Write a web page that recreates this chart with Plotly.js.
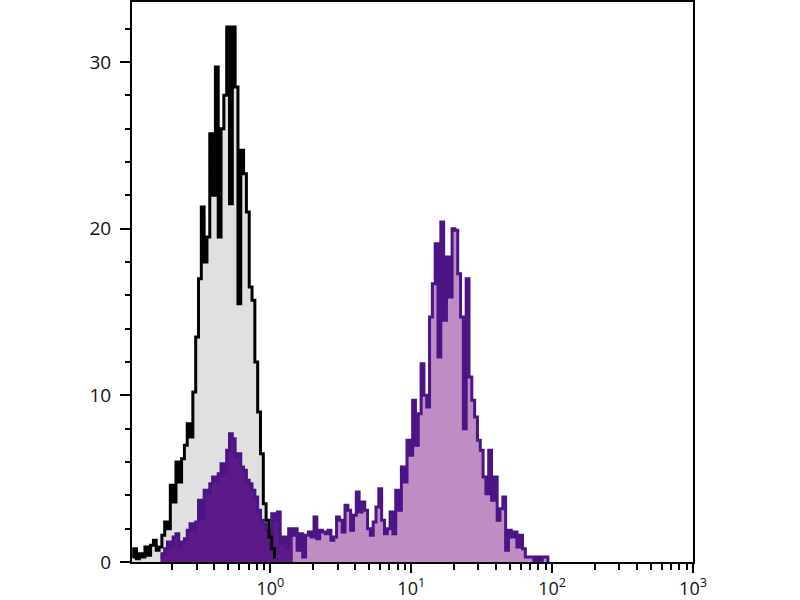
<!DOCTYPE html>
<html>
<head>
<meta charset="utf-8">
<script src="https://cdn.plot.ly/plotly-3.0.1.min.js"></script>
<style>
  body { margin: 0; background: #fff; }
  #histo { width: 800px; height: 600px; }
</style>
</head>
<body>
<div id="histo"></div>
<script>
// channels are log10 bins, 0.02 decade wide, first one centred at 10^-0.98
var binStart = -0.98;
var binStep = 0.02;

// control (unstained) counts, channels 0..51
var controlCounts = [
  0.3, 0.8, 0.2, 0.5, 0.3, 0.9, 0.4, 1.0, 1.3, 0.7,
  0.9, 1.6, 2.4, 2.0, 4.6, 3.6, 6.0, 4.8, 6.2, 7.0,
  8.3, 7.5, 10.2, 13.5, 17.0, 21.3, 18.0, 19.5, 25.7, 22.0,
  29.7, 19.5, 26.0, 28.0, 32.1, 21.5, 32.1, 28.5, 15.5, 24.7,
  23.3, 21.0, 16.5, 15.7, 12.0, 9.0, 6.5, 3.5, 2.5, 1.5,
  0.8, 0.3
];
var controlFirst = 0;

// stained sample counts, channels 10..148
var stainedCounts = [
  0.3, 0.5, 0.8, 1.2, 0.9, 1.5, 1.7, 0.9, 1.2, 1.4,
  1.9, 2.3, 1.9, 2.4, 3.7, 2.6, 4.3, 4.1, 4.7, 5.1,
  4.9, 5.3, 5.9, 5.4, 6.7, 7.7, 7.4, 6.3, 6.5, 5.7,
  5.5, 4.9, 4.7, 4.3, 3.9, 3.1, 2.5, 2.3, 1.9, 1.6,
  2.9, 2.5, 3.0, 1.1, 1.5, 0.9, 2.0, 1.6, 2.0, 0.7,
  1.7, 0.3, 1.6, 1.8, 1.5, 2.7, 1.4, 1.9, 1.8, 1.7,
  1.9, 1.3, 1.5, 2.7, 2.5, 1.8, 3.4, 3.1, 1.9, 2.8,
  4.2, 3.0, 3.6, 3.1, 2.0, 1.6, 2.4, 3.3, 4.4, 2.5,
  1.7, 2.0, 3.0, 1.7, 4.3, 3.1, 5.7, 4.8, 7.3, 6.4,
  9.7, 7.0, 8.9, 11.9, 10.0, 9.3, 14.7, 16.7, 19.1, 12.3,
  20.4, 14.5, 18.3, 15.9, 20.0, 19.9, 17.3, 14.7, 8.0, 17.0,
  11.1, 9.7, 8.7, 7.3, 6.7, 5.1, 4.1, 6.7, 3.7, 5.1,
  2.5, 3.2, 3.9, 0.7, 1.9, 1.5, 1.8, 0.9, 1.6, 0.8,
  0.3, 0.3, 0.3, 0, 0.3, 0, 0.3, 0.3, 0
];
var stainedFirst = 10;
// channels below this one are drawn in the dark (negative) colour
var stainedSplit = 57;

var decadeVals = [1, 10, 100, 1000];
var decadeText = ['10<sup>0</sup>', '10<sup>1</sup>', '10<sup>2</sup>', '10<sup>3</sup>'];
var minorVals = [0.2, 0.3, 0.4, 0.5, 0.6, 0.7, 0.8, 0.9,
                 2, 3, 4, 5, 6, 7, 8, 9,
                 20, 30, 40, 50, 60, 70, 80, 90,
                 200, 300, 400, 500, 600, 700, 800, 900];
var countVals = [0, 10, 20, 30];

function channelX(first, n) {
  var xs = [];
  for (var i = 0; i < n; i++) {
    xs.push(Math.pow(10, binStart + binStep * (first + i)));
  }
  return xs;
}

var controlX = channelX(controlFirst, controlCounts.length);
var stainedX = channelX(stainedFirst, stainedCounts.length);
var cut = stainedSplit - stainedFirst;

var grayFill = {
  x: controlX, y: controlCounts, type: 'scatter', mode: 'lines',
  line: {shape: 'hvh', width: 0, color: 'rgba(0,0,0,0)'},
  fill: 'tozeroy', fillcolor: '#e0e0e0', hoverinfo: 'skip'
};
var stainedPos = {
  x: stainedX.slice(cut), y: stainedCounts.slice(cut), type: 'scatter', mode: 'lines',
  line: {shape: 'hvh', width: 3, color: '#4b1585'},
  fill: 'tozeroy', fillcolor: '#c08cc4'
};
var stainedNeg = {
  x: stainedX.slice(0, cut + 1), y: stainedCounts.slice(0, cut + 1), type: 'scatter', mode: 'lines',
  line: {shape: 'hvh', width: 3, color: '#4b1585'},
  fill: 'tozeroy', fillcolor: '#5b1a88'
};
var controlLine = {
  x: controlX, y: controlCounts, type: 'scatter', mode: 'lines',
  line: {shape: 'hvh', width: 3, color: '#000000'}
};

var datos = [grayFill, stainedPos, stainedNeg, controlLine];

var yFont = {family: 'Open Sans, sans-serif', size: 19, color: '#111'};
var xFont = {family: 'Open Sans, sans-serif', size: 18, color: '#111'};

var layout = {
  width: 800, height: 600,
  margin: {l: 132, r: 107, t: 2, b: 38},
  paper_bgcolor: '#fff', plot_bgcolor: '#fff',
  showlegend: false,
  xaxis: {
    type: 'log', range: [-0.982, 3],
    showgrid: false, zeroline: false,
    showline: true, linecolor: '#000', linewidth: 2, mirror: true,
    tickmode: 'array', tickvals: decadeVals, ticktext: decadeText,
    ticks: 'outside', ticklen: 9, tickwidth: 2, tickcolor: '#000',
    ticklabelstandoff: 0,
    tickfont: xFont,
    minor: {tickmode: 'array', tickvals: minorVals, ticks: 'outside', ticklen: 6, tickwidth: 2, tickcolor: '#000'}
  },
  yaxis: {
    range: [0, 33.6],
    showgrid: false, zeroline: false,
    showline: true, linecolor: '#000', linewidth: 2, mirror: true,
    tickmode: 'array', tickvals: countVals,
    ticks: 'outside', ticklen: 10, tickwidth: 2, tickcolor: '#000',
    ticklabelstandoff: 5,
    tickfont: yFont,
    minor: {dtick: 2, ticks: 'outside', ticklen: 5, tickwidth: 2, tickcolor: '#000'}
  }
};

Plotly.newPlot('histo', datos, layout, {staticPlot: true});
</script>
</body>
</html>
